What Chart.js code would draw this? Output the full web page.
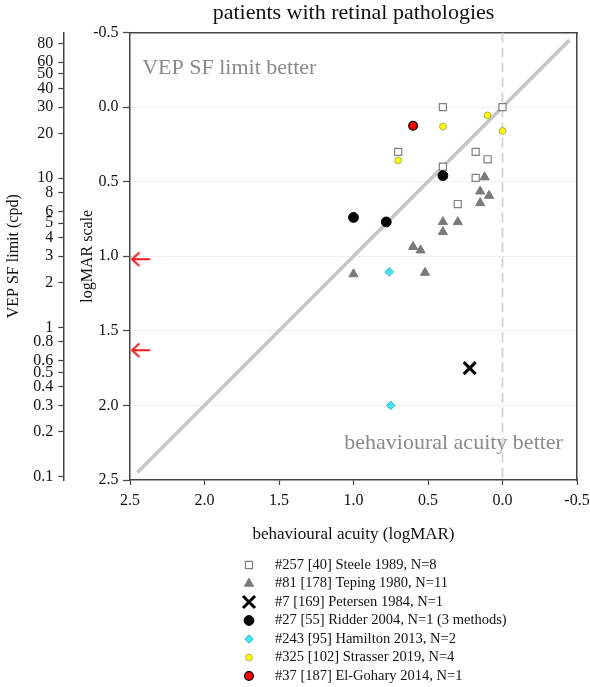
<!DOCTYPE html>
<html><head><meta charset="utf-8">
<script src="https://cdn.jsdelivr.net/npm/chart.js@4.4.1/dist/chart.umd.min.js"></script>
<style>html,body{margin:0;padding:0;background:#fff;}canvas{display:block;}</style>
</head><body>
<canvas id="c" width="590" height="687"></canvas>
<script>
// ---- data (behavioural acuity logMAR = x, VEP SF limit in logMAR = y) ----
const seriesLabels = [
  '#257 [40] Steele 1989, N=8',
  '#81 [178] Teping 1980, N=11',
  '#7 [169] Petersen 1984, N=1',
  '#27 [55] Ridder 2004, N=1 (3 methods)',
  '#243 [95] Hamilton 2013, N=2',
  '#325 [102] Strasser 2019, N=4',
  '#37 [187] El-Gohary 2014, N=1'
];
const steeleX = [0.40, 0.00, 0.70, 0.18, 0.10, 0.40, 0.18, 0.30];
const steeleY = [0.00, 0.00, 0.30, 0.30, 0.35, 0.40, 0.475, 0.65];
const tepingX = [0.12, 0.15, 0.09, 0.15, 0.40, 0.30, 0.40, 0.60, 0.55, 1.00, 0.52];
const tepingY = [0.47, 0.565, 0.594, 0.643, 0.77, 0.77, 0.837, 0.937, 0.96, 1.12, 1.11];
const petersenX = [0.22];
const petersenY = [1.75];
const ridderX = [0.40, 1.00, 0.78];
const ridderY = [0.46, 0.74, 0.77];
const hamiltonX = [0.76, 0.75];
const hamiltonY = [1.105, 2.00];
const strasserX = [0.10, 0.00, 0.40, 0.70];
const strasserY = [0.056, 0.16, 0.13, 0.357];
const elGoharyX = [0.60];
const elGoharyY = [0.125];
const arrowX = [2.43, 2.43];
const arrowY = [1.02, 1.63];
const identityX = [2.45, -0.45];
const identityY = [2.45, -0.45];
const zeroLineX = [0, 0];
const zeroLineY = [-0.5, 2.5];
const cpdTickValues = [80, 60, 50, 40, 30, 20, 10, 8, 6, 5, 4, 3, 2, 1, 0.8, 0.6, 0.5, 0.4, 0.3, 0.2, 0.1];
const cpdTickLabels = ['80','60','50','40','30','20','10','8','6','5','4','3','2','1','0.8','0.6','0.5','0.4','0.3','0.2','0.1'];
const cpdAtLogMARZero = 30;

const F = '"Liberation Serif", "Times New Roman", serif';
Chart.defaults.font.family = F;

const pts = (xs, ys) => xs.map((x, i) => ({x: x, y: ys[i]}));
const fmt = v => (Math.abs(v) < 1e-9 ? 0 : v).toFixed(1);

function makeArrow() {
  const c = document.createElement('canvas');
  c.width = 22; c.height = 16;
  const g = c.getContext('2d');
  g.strokeStyle = '#f01818'; g.lineWidth = 2; g.lineCap = 'round'; g.lineJoin = 'round';
  g.beginPath(); g.moveTo(2.5, 8); g.lineTo(20, 8);
  g.moveTo(9.5, 1.8); g.lineTo(2.5, 8); g.lineTo(9.5, 14.2); g.stroke();
  return c;
}

const marker = (label, data, style, radius, fill, border, bw, extra) => Object.assign({
  type: 'scatter', label: label, data: data, pointStyle: style, pointRadius: radius,
  pointHoverRadius: radius, backgroundColor: fill, borderColor: border, borderWidth: bw,
  pointBackgroundColor: fill, pointBorderColor: border, pointBorderWidth: bw,
  showLine: false, order: 0, inLegend: true
}, extra || {});

const datasets = [
  marker(seriesLabels[6], pts(elGoharyX, elGoharyY), 'circle', 4.4, '#ff0000', '#000000', 1.2),
  marker(seriesLabels[5], pts(strasserX, strasserY), 'circle', 3.4, '#ffff00', '#9a9a50', 0.8),
  marker(seriesLabels[4], pts(hamiltonX, hamiltonY), 'rectRot', 4.3, '#40e6f6', '#22aabb', 0.8),
  marker(seriesLabels[3], pts(ridderX, ridderY), 'circle', 4.9, '#000000', '#000000', 1),
  marker(seriesLabels[2], pts(petersenX, petersenY), 'crossRot', 8.5, '#000000', '#000000', 3),
  marker(seriesLabels[1], pts(tepingX, tepingY), 'triangle', 5.3, '#7a7a7a', '#7a7a7a', 1),
  marker(seriesLabels[0], pts(steeleX, steeleY), 'rect', 5.0, '#ffffff', '#808080', 1.2),
  {type: 'scatter', label: 'arrows', data: pts(arrowX, arrowY), pointStyle: makeArrow(),
   pointRadius: 8, showLine: false, order: 1, inLegend: false},
  {type: 'scatter', label: 'identity', data: pts(identityX, identityY), showLine: true,
   borderColor: '#c6c6c6', borderWidth: 3.6, pointRadius: 0, fill: false, order: 10, inLegend: false},
  {type: 'scatter', label: 'zero', data: pts(zeroLineX, zeroLineY), showLine: true,
   borderColor: '#d2d2d2', borderWidth: 1.8, borderDash: [10, 5], pointRadius: 0, fill: false, order: 11, inLegend: false}
];
const legendOrder = [6, 5, 4, 3, 2, 1, 0]; // dataset indices in legend order

const annotationPlugin = {
  id: 'regionText',
  beforeDatasetsDraw(chart, args, opts) {
    const ctx = chart.ctx, sx = chart.scales.x, sy = chart.scales.y;
    ctx.save();
    ctx.font = opts.font; ctx.fillStyle = opts.color;
    ctx.textAlign = 'left'; ctx.textBaseline = 'middle';
    opts.items.forEach(it => ctx.fillText(it.text, sx.getPixelForValue(it.x), sy.getPixelForValue(it.y)));
    ctx.restore();
  }
};

const listLegendPlugin = {
  id: 'listLegend',
  afterDraw(chart, args, opts) {
    const ctx = chart.ctx;
    ctx.save();
    opts.order.forEach((di, i) => {
      const ds = chart.data.datasets[di];
      const y = opts.top + i * opts.rowHeight;
      ctx.fillStyle = ds.backgroundColor; ctx.strokeStyle = ds.borderColor; ctx.lineWidth = ds.borderWidth;
      Chart.helpers.drawPoint(ctx, {pointStyle: ds.pointStyle, rotation: 0, radius: ds.pointRadius, borderWidth: ds.borderWidth}, opts.markerX, y);
      ctx.fillStyle = opts.color; ctx.font = opts.font;
      ctx.textAlign = 'left'; ctx.textBaseline = 'middle';
      ctx.fillText(ds.label, opts.textX, y);
    });
    ctx.restore();
  }
};

const AX = '#444444';
new Chart(document.getElementById('c'), {
  type: 'scatter',
  data: {datasets: datasets},
  plugins: [annotationPlugin, listLegendPlugin],
  options: {
    responsive: false, animation: false, devicePixelRatio: 1,
    layout: {padding: {left: 0, right: 13, top: 0, bottom: 142}},
    plugins: {
      legend: {display: false},
      tooltip: {enabled: false},
      title: {display: true, text: 'patients with retinal pathologies', fullSize: false, color: '#111',
              font: {size: 22, weight: 'normal', lineHeight: 1}, padding: {top: 2, bottom: 8.5}},
      regionText: {font: '22px ' + F, color: '#8a8a8a', items: [
        {text: 'VEP SF limit better', x: 2.418, y: -0.263},
        {text: 'behavioural acuity better', x: 1.062, y: 2.255}
      ]},
      listLegend: {order: legendOrder, markerX: 249, textX: 275, top: 565, rowHeight: 18.5,
                   font: '14.5px ' + F, color: '#111'}
    },
    scales: {
      x: {type: 'linear', position: 'bottom', reverse: true, min: -0.5, max: 2.5,
          ticks: {stepSize: 0.5, callback: v => fmt(v), color: '#111', font: {size: 16}, padding: 6, maxRotation: 0, autoSkip: false},
          grid: {drawOnChartArea: false, drawTicks: true, tickLength: 5, tickColor: AX, tickWidth: 1.2},
          border: {color: AX, width: 1.5},
          title: {display: true, text: 'behavioural acuity (logMAR)', color: '#111', font: {size: 17}, padding: {top: 0, bottom: 0.5}},
          afterFit(s) { s.height = 65; s.paddingLeft = 0; s.paddingRight = 0; }},
      xTop: {type: 'linear', position: 'top', reverse: true, min: -0.5, max: 2.5,
          ticks: {display: false}, grid: {display: false, drawTicks: false},
          border: {display: true, color: AX, width: 1.5},
          afterFit(s) { s.height = 0; s.paddingLeft = 0; s.paddingRight = 0; }},
      y: {type: 'linear', position: 'left', reverse: true, min: -0.5, max: 2.5, weight: 0,
          ticks: {stepSize: 0.5, callback: v => fmt(v), color: '#111', font: {size: 16}, padding: 4.5, autoSkip: false},
          grid: {drawOnChartArea: true, lineWidth: 1,
                 color: c => (c.tick && (Math.abs(c.tick.value + 0.5) < 1e-6 || Math.abs(c.tick.value - 2.5) < 1e-6)) ? 'rgba(0,0,0,0)' : '#e3e3e3',
                 drawTicks: true, tickLength: 7, tickColor: AX, tickWidth: 1.2},
          border: {color: AX, width: 1.5, dash: [2, 2]},
          title: {display: true, text: 'logMAR scale', color: '#111', font: {size: 16}, padding: {top: 14.4, bottom: 0}},
          afterFit(s) { s.width = 66.7; s.paddingTop = 0; s.paddingBottom = 0; }},
      cpd: {type: 'linear', position: 'left', reverse: true, min: -0.5, max: 2.5, weight: 1,
          afterBuildTicks(s) { s.ticks = cpdTickValues.map(c => ({value: Math.log10(cpdAtLogMARZero / c)})); },
          ticks: {autoSkip: false, callback: (v, i) => cpdTickLabels[i], color: '#111', font: {size: 16}, padding: 5},
          grid: {drawOnChartArea: false, drawTicks: true, tickLength: 5, tickColor: AX, tickWidth: 1.2},
          border: {color: AX, width: 1.5},
          title: {display: true, text: 'VEP SF limit (cpd)', color: '#111', font: {size: 16}, padding: {top: 3.7, bottom: 0}},
          afterFit(s) { s.width = 63.3; s.paddingTop = 0; s.paddingBottom = 0; }},
      yRight: {type: 'linear', position: 'right', reverse: true, min: -0.5, max: 2.5,
          ticks: {display: false}, grid: {display: false, drawTicks: false},
          border: {display: true, color: AX, width: 1.5},
          afterFit(s) { s.width = 0; s.paddingTop = 0; s.paddingBottom = 0; }}
    }
  }
});
</script>
</body></html>
